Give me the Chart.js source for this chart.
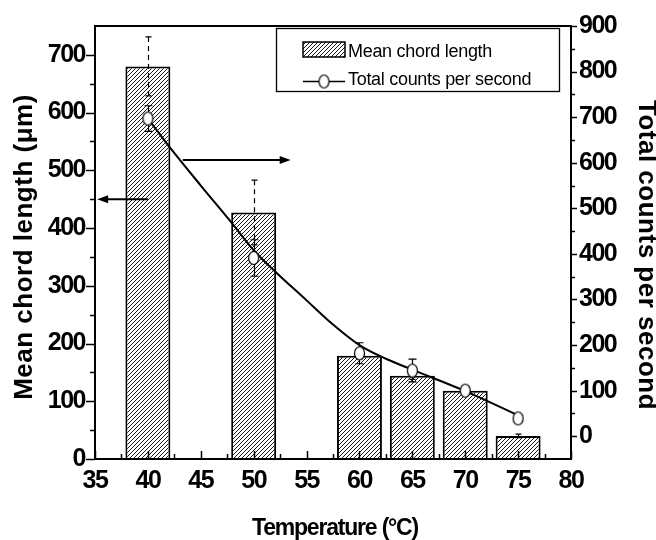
<!DOCTYPE html>
<html><head><meta charset="utf-8">
<script src="https://cdn.jsdelivr.net/npm/chart.js@4/dist/chart.umd.min.js"></script>
<style>html,body{margin:0;padding:0;background:#fff}#wrap{width:656px;height:540px;position:relative}</style>
</head><body><div id="wrap"><canvas id="c" width="656" height="540"></canvas></div>
<script>
// ---- data ----
const temps = [40, 50, 60, 65, 70, 75];
const chordLength = [680, 427, 179, 144, 118, 40];
const chordErr = [51, 56, 6, 6, 5, 3];
const counts = [697, 391, 182, 144, 100, 39];
const countsErr = [28, 40, 23, 25, 8, 6];
const fitTemps = [40, 42, 45, 48, 50, 52, 55, 57, 60, 62.5, 65, 70, 75];
const fitCounts = [697, 636, 550, 466, 408, 362, 298, 255, 200, 170, 146, 99, 46];
const xTicks = [35, 40, 45, 50, 55, 60, 65, 70, 75, 80];
const leftTicks = [0, 100, 200, 300, 400, 500, 600, 700];
const rightTicks = [0, 100, 200, 300, 400, 500, 600, 700, 800, 900];
const arrowLeftX = [40, 35.2];   // temperature, arrow points to left axis
const arrowLeftY = [450, 450];   // left-axis units
const arrowRightX = [43.3, 53.5]; // arrow points to right axis
const arrowRightY = [606, 606];  // right-axis units
const barLabel = 'Mean chord length';
const lineLabel = 'Total counts per second';
const xTitle = 'Temperature (°C)';
const yTitle = 'Mean chord length (μm)';
const y1Title = 'Total counts per second';

const FONT = '"Liberation Sans", Arial, Helvetica, sans-serif';
const canvas = document.getElementById('c');
const ctx0 = canvas.getContext('2d');

// hatch pattern
const tile = document.createElement('canvas');
tile.width = 4; tile.height = 4;
const tc = tile.getContext('2d');
tc.fillStyle = '#fff'; tc.fillRect(0, 0, 4, 4);
tc.strokeStyle = '#000'; tc.lineWidth = 0.9;
for (const o of [-4, 0, 4]) { tc.beginPath(); tc.moveTo(o - 1, 5); tc.lineTo(o + 5, -1); tc.stroke(); }
const hatch = ctx0.createPattern(tile, 'repeat');

// ellipse marker
const marker = document.createElement('canvas');
marker.width = 13; marker.height = 16;
const mc = marker.getContext('2d');
mc.fillStyle = '#fff'; mc.strokeStyle = '#000'; mc.lineWidth = 1.2;
mc.beginPath(); mc.ellipse(6.5, 8, 5, 6.5, 0, 0, Math.PI * 2); mc.fill(); mc.stroke();

function arrow(ctx, x0, y0, x1, y1) {
  const dir = Math.sign(x1 - x0);
  ctx.beginPath(); ctx.moveTo(x0, y0); ctx.lineTo(x1 - dir * 8, y1); ctx.stroke();
  ctx.beginPath(); ctx.moveTo(x1, y1); ctx.lineTo(x1 - dir * 11, y1 - 4); ctx.lineTo(x1 - dir * 11, y1 + 4); ctx.closePath(); ctx.fill();
}

const deco = {
  id: 'deco',
  beforeUpdate(chart) { chart.ctx.letterSpacing = '-1.5px'; },
  beforeDraw(chart) { chart.ctx.letterSpacing = '-1.5px'; },
  afterDatasetDraw(chart, args) {
    if (args.index !== 0) return;
    const ctx = chart.ctx, xs = chart.scales.x, ys = chart.scales.y;
    ctx.save(); ctx.strokeStyle = '#000'; ctx.lineWidth = 1.2;
    temps.forEach((t, i) => {
      const px = Math.round(xs.getPixelForValue(t)) + 0.5;
      const top = ys.getPixelForValue(chordLength[i] + chordErr[i]);
      const bot = ys.getPixelForValue(chordLength[i] - chordErr[i]);
      ctx.setLineDash([5, 4]); ctx.beginPath(); ctx.moveTo(px, top); ctx.lineTo(px, bot); ctx.stroke();
      ctx.setLineDash([]); ctx.beginPath();
      ctx.moveTo(px - 3, top); ctx.lineTo(px + 3, top); ctx.moveTo(px - 3, bot); ctx.lineTo(px + 3, bot); ctx.stroke();
    });
    ctx.restore();
  },
  beforeDatasetDraw(chart, args) {
    if (args.index !== 2) return;
    const ctx = chart.ctx, xs = chart.scales.x, ys = chart.scales.y1;
    ctx.save(); ctx.strokeStyle = '#000'; ctx.lineWidth = 1.2;
    temps.forEach((t, i) => {
      const px = Math.round(xs.getPixelForValue(t)) + 0.5;
      const top = ys.getPixelForValue(counts[i] + countsErr[i]);
      const bot = ys.getPixelForValue(counts[i] - countsErr[i]);
      ctx.beginPath(); ctx.moveTo(px, top); ctx.lineTo(px, bot);
      ctx.moveTo(px - 4, top); ctx.lineTo(px + 4, top); ctx.moveTo(px - 4, bot); ctx.lineTo(px + 4, bot); ctx.stroke();
    });
    ctx.restore();
  },
  afterDraw(chart) {
    const ctx = chart.ctx, a = chart.chartArea;
    const xs = chart.scales.x, ys = chart.scales.y, y1 = chart.scales.y1;
    ctx.save();
    ctx.strokeStyle = '#000'; ctx.fillStyle = '#000';
    // frame
    ctx.lineWidth = 2;
    ctx.strokeRect(a.left, a.top, a.right - a.left, a.bottom - a.top);
    // ticks
    ctx.lineWidth = 1.5;
    ctx.beginPath();
    leftTicks.forEach((v, i) => {
      const y = Math.round(ys.getPixelForValue(v)) + 0.5;
      ctx.moveTo(a.left - 9, y); ctx.lineTo(a.left, y);
      if (i < leftTicks.length - 1) {
        const ym = Math.round(ys.getPixelForValue((v + leftTicks[i + 1]) / 2)) + 0.5;
        ctx.moveTo(a.left - 5, ym); ctx.lineTo(a.left, ym);
      }
    });
    rightTicks.forEach((v, i) => {
      const y = Math.round(y1.getPixelForValue(v)) + 0.5;
      ctx.moveTo(a.right, y); ctx.lineTo(a.right + 6, y);
      if (i < rightTicks.length - 1) {
        const ym = Math.round(y1.getPixelForValue((v + rightTicks[i + 1]) / 2)) + 0.5;
        ctx.moveTo(a.right, ym); ctx.lineTo(a.right + 4, ym);
      }
    });
    xTicks.forEach((v, i) => {
      const x = Math.round(xs.getPixelForValue(v)) + 0.5;
      ctx.moveTo(x, a.bottom); ctx.lineTo(x, a.bottom - 8);
      if (i < xTicks.length - 1) {
        const xm = Math.round(xs.getPixelForValue((v + xTicks[i + 1]) / 2)) + 0.5;
        ctx.moveTo(xm, a.bottom); ctx.lineTo(xm, a.bottom - 5);
      }
    });
    ctx.stroke();
    // arrows
    ctx.lineWidth = 2;
    arrow(ctx, xs.getPixelForValue(arrowLeftX[0]), ys.getPixelForValue(arrowLeftY[0]),
               xs.getPixelForValue(arrowLeftX[1]), ys.getPixelForValue(arrowLeftY[1]));
    arrow(ctx, xs.getPixelForValue(arrowRightX[0]), y1.getPixelForValue(arrowRightY[0]),
               xs.getPixelForValue(arrowRightX[1]), y1.getPixelForValue(arrowRightY[1]));
    // axis titles
    ctx.textAlign = 'center'; ctx.textBaseline = 'alphabetic';
    ctx.font = 'bold 23px ' + FONT; ctx.letterSpacing = '-1.2px';
    ctx.fillText(xTitle, 335, 535);
    ctx.font = 'bold 26px ' + FONT; ctx.letterSpacing = '0.5px';
    ctx.save(); ctx.translate(31.5, 247); ctx.rotate(-Math.PI / 2); ctx.fillText(yTitle, 0, 0); ctx.restore();
    ctx.save(); ctx.translate(639, 255); ctx.rotate(Math.PI / 2); ctx.fillText(y1Title, 0, 0); ctx.restore();
    // legend
    ctx.lineWidth = 1.3;
    ctx.fillStyle = '#fff';
    ctx.fillRect(276.5, 28.5, 283, 63);
    ctx.strokeRect(276.5, 28.5, 283, 63);
    ctx.fillStyle = hatch; ctx.fillRect(303, 42, 42, 15);
    ctx.lineWidth = 1.5; ctx.strokeRect(303, 42, 42, 15);
    ctx.beginPath(); ctx.moveTo(303, 81.5); ctx.lineTo(345, 81.5); ctx.stroke();
    ctx.drawImage(marker, 324 - 6.5, 81.5 - 8);
    ctx.fillStyle = '#000'; ctx.textAlign = 'left';
    ctx.font = '18px ' + FONT; ctx.letterSpacing = '-0.3px';
    ctx.fillText(barLabel, 348, 56.5);
    ctx.fillText(lineLabel, 348, 85);
    ctx.restore();
  }
};

const tickFont = { family: FONT, size: 25, weight: 'bold' };

new Chart(ctx0, {
  type: 'bar',
  data: {
    datasets: [
      {
        type: 'bar', label: barLabel, order: 3, yAxisID: 'y',
        data: temps.map((t, i) => ({ x: t, y: chordLength[i] })),
        backgroundColor: hatch, borderColor: '#000', borderWidth: 2,
        barPercentage: 0.85, categoryPercentage: 1
      },
      {
        type: 'line', label: 'fit', order: 2, yAxisID: 'y1',
        data: fitTemps.map((t, i) => ({ x: t, y: fitCounts[i] })),
        borderColor: '#000', borderWidth: 2, pointRadius: 0, fill: false,
        cubicInterpolationMode: 'monotone'
      },
      {
        type: 'line', label: lineLabel, order: 1, yAxisID: 'y1', showLine: false,
        data: temps.map((t, i) => ({ x: t, y: counts[i] })),
        pointStyle: marker, pointRadius: 7
      }
    ]
  },
  options: {
    responsive: false, animation: false,
    layout: { padding: { top: 26, left: 0, right: 0, bottom: 0 } },
    plugins: { legend: { display: false }, tooltip: { enabled: false } },
    scales: {
      x: {
        type: 'linear', min: 35, max: 80, offset: false,
        grid: { display: false, drawTicks: false }, border: { display: false },
        afterBuildTicks: s => { s.ticks = xTicks.map(v => ({ value: v })); },
        afterFit: s => { s.height = 81; s.paddingLeft = 0; s.paddingRight = 0; },
        ticks: { font: tickFont, color: '#000', padding: 7, maxRotation: 0, autoSkip: false }
      },
      y: {
        type: 'linear', position: 'left', min: 0, max: 750,
        grid: { display: false, drawTicks: false }, border: { display: false },
        afterBuildTicks: s => { s.ticks = leftTicks.map(v => ({ value: v })); },
        afterFit: s => { s.width = 95; s.paddingTop = 0; s.paddingBottom = 0; },
        ticks: { font: tickFont, color: '#000', padding: 10, autoSkip: false }
      },
      y1: {
        type: 'linear', position: 'right', min: -50, max: 900,
        grid: { display: false, drawTicks: false }, border: { display: false },
        afterBuildTicks: s => { s.ticks = rightTicks.map(v => ({ value: v })); },
        afterFit: s => { s.width = 85; s.paddingTop = 0; s.paddingBottom = 0; },
        ticks: { font: tickFont, color: '#000', padding: 8, autoSkip: false }
      }
    }
  },
  plugins: [deco]
});
</script></body></html>
